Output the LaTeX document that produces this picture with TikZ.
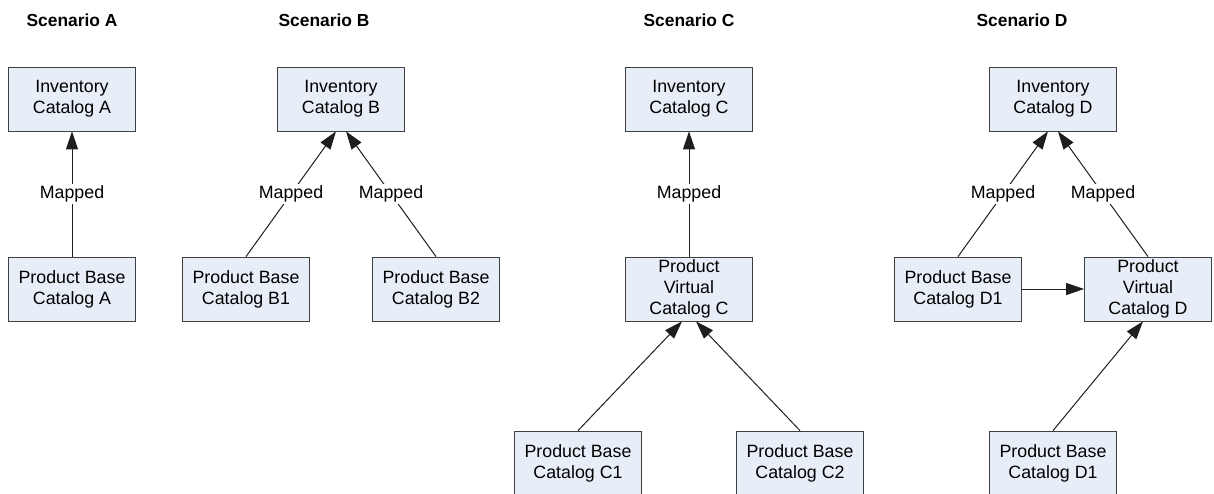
\documentclass[tikz,border=0pt]{standalone}
\usepackage{fontspec}
\setmainfont{Liberation Sans}
\usetikzlibrary{arrows.meta,positioning}

\begin{document}
\begin{tikzpicture}[x=0.5pt,y=-0.5pt,
  catalog/.style={draw={rgb,255:red,64;green,64;blue,64},fill={rgb,255:red,232;green,238;blue,247},
    minimum width=63.5pt,minimum height=32pt,inner sep=1pt,align=center,font=\fontsize{8.9}{10.5}\selectfont},
  title/.style={font=\fontsize{8.7}{10.5}\selectfont\bfseries},
  link/.style={draw={rgb,255:red,30;green,30;blue,30},line width=0.5pt,-{Triangle[length=9pt,width=6pt]}},
  tag/.style={fill=white,inner sep=1pt,font=\fontsize{8.9}{10.5}\selectfont}]
  \useasboundingbox (0,0) rectangle (1214,493); %Page size

  %Titles
  \node[title] (titleA) at (72,20) {Scenario A};
  \node[title] (titleB) at (324,20) {Scenario B};
  \node[title] (titleC) at (689,20) {Scenario C};
  \node[title] (titleD) at (1022,20) {Scenario D};

  %Scenario A
  \node[catalog] (invA) at (72,99) {Inventory\\Catalog A};
  \node[catalog] (prodA) at (72,289) {Product Base\\Catalog A};
  \draw[link] (prodA) -- node[tag]{Mapped} (invA);

  %Scenario B
  \node[catalog] (invB) at (341,99) {Inventory\\Catalog B};
  \node[catalog] (prodB1) at (246,289) {Product Base\\Catalog B1};
  \node[catalog] (prodB2) at (436,289) {Product Base\\Catalog B2};
  \draw[link] (prodB1.north) -- node[tag]{Mapped} ([xshift=-2.5pt]invB.south);
  \draw[link] (prodB2.north) -- node[tag]{Mapped} ([xshift=2.5pt]invB.south);

  %Scenario C
  \node[catalog] (invC) at (689,99) {Inventory\\Catalog C};
  \node[catalog] (virtC) at (689,289) {Product\\Virtual\\Catalog C};
  \node[catalog] (prodC1) at (578,463) {Product Base\\Catalog C1};
  \node[catalog] (prodC2) at (800,463) {Product Base\\Catalog C2};
  \draw[link] (virtC) -- node[tag]{Mapped} (invC);
  \draw[link] (prodC1.north) -- ([xshift=-3.5pt]virtC.south);
  \draw[link] (prodC2.north) -- ([xshift=3.5pt]virtC.south);

  %Scenario D
  \node[catalog] (invD) at (1053,99) {Inventory\\Catalog D};
  \node[catalog] (prodD1) at (958,289) {Product Base\\Catalog D1};
  \node[catalog] (virtD) at (1148,289) {Product\\Virtual\\Catalog D};
  \node[catalog] (prodD2) at (1053,463) {Product Base\\Catalog D1};
  \draw[link] (prodD1.north) -- node[tag]{Mapped} ([xshift=-2.5pt]invD.south);
  \draw[link] (virtD.north) -- node[tag]{Mapped} ([xshift=2.5pt]invD.south);
  \draw[link] (prodD1) -- (virtD);
  \draw[link] (prodD2.north) -- ([xshift=-2.5pt]virtD.south);
\end{tikzpicture}
\end{document}
